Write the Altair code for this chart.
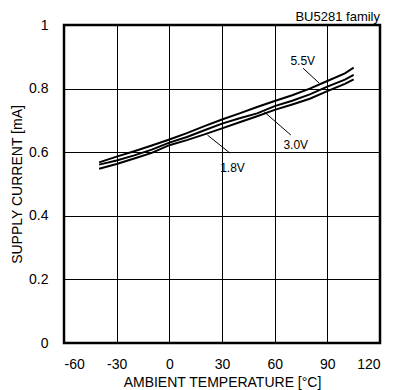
import altair as alt
import pandas as pd

FONT = "Liberation Sans"

temps = [-40, -30, -20, -10, 0, 10, 20, 30, 40, 50, 60, 70, 80, 90, 100, 105]
v55 = [0.568, 0.586, 0.603, 0.621, 0.640, 0.660, 0.682, 0.703, 0.722, 0.742, 0.761, 0.779, 0.800, 0.824, 0.848, 0.866]
v30 = [0.561, 0.574, 0.590, 0.608, 0.630, 0.648, 0.669, 0.690, 0.707, 0.722, 0.745, 0.762, 0.782, 0.806, 0.828, 0.843]
v18 = [0.548, 0.563, 0.580, 0.598, 0.622, 0.638, 0.656, 0.675, 0.694, 0.713, 0.733, 0.750, 0.768, 0.792, 0.815, 0.829]

series_names = ["5.5V", "3.0V", "1.8V"]
label_x = [76, 72, 36]
label_y = [0.887, 0.623, 0.549]
leader_x1 = [76.2, 54.0, 21.7]
leader_y1 = [0.864, 0.727, 0.654]
leader_x2 = [85.4, 69.2, 34.6]
leader_y2 = [0.817, 0.654, 0.597]

rows = []
for name, vals in zip(series_names, [v55, v30, v18]):
    for t, v in zip(temps, vals):
        rows.append({"series": name, "temp": t, "current": v})
df = pd.DataFrame(rows)

ann = pd.DataFrame({
    "name": series_names, "lx": label_x, "ly": label_y,
    "x1": leader_x1, "y1": leader_y1, "x2": leader_x2, "y2": leader_y2,
})

xscale = alt.Scale(domain=[-60, 120], nice=False, zero=False)
yscale = alt.Scale(domain=[0, 1], nice=False)

xaxis = alt.Axis(values=[-60, -30, 0, 30, 60, 90, 120], title="AMBIENT TEMPERATURE [°C]",
                 labelExpr="'' + datum.value",
                 grid=True, gridColor="black", gridOpacity=1, gridWidth=1,
                 ticks=False, domain=False, labelPadding=14, labelFontSize=14,
                 labelFont=FONT, labelColor="black", titleFont=FONT, titleFontSize=14,
                 titleFontWeight="normal", titleColor="black", titleY=39, titleBaseline="middle")
yaxis = alt.Axis(values=[0, 0.2, 0.4, 0.6, 0.8, 1.0], format=".1~f", title="SUPPLY CURRENT [mA]",
                 grid=True, gridColor="black", gridOpacity=1, gridWidth=1,
                 ticks=False, domain=False, labelPadding=16, labelFontSize=14,
                 labelFont=FONT, labelColor="black", titleFont=FONT, titleFontSize=14,
                 titleFontWeight="normal", titleColor="black", titleX=-47, titleY=159,
                 titleAngle=-90, titleAlign="center", titleBaseline="middle")

lines = alt.Chart(df).mark_line(color="black", strokeWidth=2).encode(
    x=alt.X("temp:Q", scale=xscale, axis=xaxis),
    y=alt.Y("current:Q", scale=yscale, axis=yaxis),
    detail="series:N",
)

leaders = alt.Chart(ann).mark_rule(color="black", strokeWidth=1).encode(
    x="x1:Q", y="y1:Q", x2="x2:Q", y2="y2:Q"
)

labels = alt.Chart(ann).mark_text(font=FONT, fontSize=12, color="black").encode(
    x="lx:Q", y="ly:Q", text="name:N"
)

chart = alt.layer(lines, leaders, labels).properties(
    width=316, height=318,
    title=alt.Title("BU5281 family", anchor="end", fontSize=13, fontWeight="normal",
                    font=FONT, color="black", offset=-6),
    autosize=alt.AutoSizeParams(type="none"),
    padding={"left": 56, "top": 17, "right": 5, "bottom": 47},
).configure_view(stroke="black", strokeWidth=2.5)

chart.save("out.html", embed_options={"renderer": "svg", "actions": False})
